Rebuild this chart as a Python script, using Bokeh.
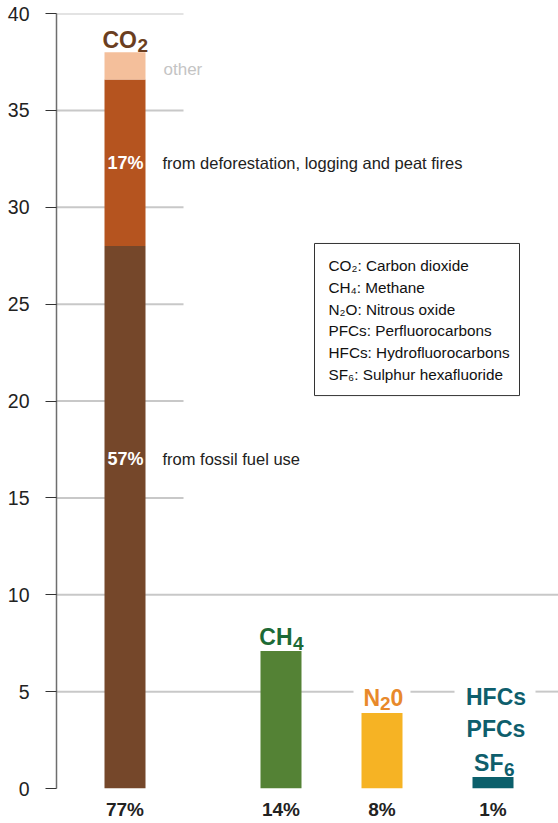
from bokeh.plotting import figure
from bokeh.models import Range1d, FixedTicker
from bokeh.core.properties import value
from bokeh.embed import file_html
from bokeh.resources import INLINE

# ---------------- data ----------------
gases = ["CO2", "CH4", "N2O", "HFCs/PFCs/SF6"]
gas_totals = [38.0, 7.1, 3.9, 0.6]
gas_shares = ["77%", "14%", "8%", "1%"]

co2_sources = ["fossil fuel use", "deforestation, logging and peat fires", "other"]
co2_values = [28.0, 8.6, 1.4]
co2_shares = ["57%", "17%", ""]

y_ticks = [0, 5, 10, 15, 20, 25, 30, 35, 40]

legend_lines = [
    "CO\u2082: Carbon dioxide",
    "CH\u2084: Methane",
    "N\u2082O: Nitrous oxide",
    "PFCs: Perfluorocarbons",
    "HFCs: Hydrofluorocarbons",
    "SF\u2086: Sulphur hexafluoride",
]

# ---------------- layout / style ----------------
FONT = "Liberation Sans"
bar_x = [68.5, 224.5, 325.5, 436.5]
bar_w = 41
co2_colors = ["#75472a", "#b5541f", "#f4bf9b"]
gas_bar_colors = [None, "#548235", "#f6b324", "#0b5f6b"]
gas_label_colors = ["#6b3e20", "#1d6a36", "#e8892b", "#0e5e6c"]

p = figure(width=558, height=823, output_backend="svg", toolbar_location=None,
           x_range=Range1d(0, 502), y_range=Range1d(0, 40),
           min_border_left=56, min_border_right=0, min_border_top=13, min_border_bottom=35)
p.outline_line_color = None
p.xgrid.visible = False
p.ygrid.visible = False
p.background_fill_color = "white"
p.border_fill_color = "white"

# y axis
ya = p.yaxis[0]
ya.ticker = FixedTicker(ticks=y_ticks)
ya.axis_line_color = "#6e6e6e"
ya.axis_line_width = 1.5
ya.major_tick_out = 11
ya.major_tick_in = 0
ya.major_tick_line_color = "#333333"
ya.major_tick_line_width = 1.2
ya.minor_tick_line_color = None
ya.major_label_standoff = 16
ya.major_label_text_font = FONT
ya.major_label_text_font_size = "19.5px"
ya.major_label_text_color = "#222222"

# x axis with share labels
xa = p.xaxis[0]
xa.ticker = FixedTicker(ticks=bar_x)
xa.major_label_overrides = {bx: s for bx, s in zip(bar_x, gas_shares)}
xa.axis_line_color = None
xa.major_tick_line_color = None
xa.minor_tick_line_color = None
xa.major_tick_out = 0
xa.major_tick_in = 0
xa.major_label_standoff = 10
xa.major_label_text_font = FONT
xa.major_label_text_font_size = "19px"
xa.major_label_text_font_style = "bold"
xa.major_label_text_color = "#222222"

# grid lines (segments; short ones near the CO2 bar, gaps behind labels)
short_y = [t for t in y_ticks if t >= 15]
gx0 = [0] * len(short_y) + [0, 0, 354, 479]
gx1 = [127] * len(short_y) + [502, 297, 398, 502]
gy = short_y + [10, 5, 5, 5]
p.segment(x0=gx0, y0=gy, x1=gx1, y1=gy, line_color="#c8c8c8", line_width=2)

# CO2 stacked bar
bottoms, tops = [], []
acc = 0.0
for v in co2_values:
    bottoms.append(acc)
    acc += v
    tops.append(acc)
p.vbar(x=[bar_x[0]] * 3, width=bar_w, bottom=bottoms, top=tops,
       fill_color=co2_colors, line_color=None)

# other gas bars
p.vbar(x=bar_x[1:], width=bar_w, bottom=0, top=gas_totals[1:],
       fill_color=gas_bar_colors[1:], line_color=None)

# labels inside / beside CO2 bar
label_y = [17.0, bottoms[1] + co2_values[1] / 2, 37.1]
p.text(x=[bar_x[0]] * 2, y=label_y[:2], text=co2_shares[:2],
       text_font=value(FONT), text_font_size=value("18px"), text_font_style="bold",
       text_color="white", text_align="center", text_baseline="middle", x_offset=0.5)
p.text(x=[bar_x[0]] * 2, y=label_y[:2], text=["from " + s for s in co2_sources[:2]],
       text_font=value(FONT), text_font_size=value("16.5px"),
       text_color="#222222", text_align="left", text_baseline="middle", x_offset=37.5)
p.text(x=[bar_x[0]], y=[label_y[2]], text=[co2_sources[2]],
       text_font=value(FONT), text_font_size=value("17px"),
       text_color="#c4c4c4", text_align="left", text_baseline="middle", x_offset=38.5)

# gas name labels above bars (with subscripts)
def lab(x, y, t, size, color, align, xo, yo):
    p.text(x=[x], y=[y], text=[t], text_font=value(FONT), text_font_size=value(size),
           text_font_style="bold", text_color=color, text_align=align,
           text_baseline="alphabetic", x_offset=xo, y_offset=yo)

BIG, SUB = "23px", "19px"
# CO2
lab(bar_x[0], gas_totals[0], "CO", BIG, gas_label_colors[0], "right", 12, -12)
lab(bar_x[0], gas_totals[0], "2", SUB, gas_label_colors[0], "left", 12.5, -7)
# CH4
lab(bar_x[1], gas_totals[1], "CH", BIG, gas_label_colors[1], "right", 11.5, -14.4)
lab(bar_x[1], gas_totals[1], "4", SUB, gas_label_colors[1], "left", 12, -7.4)
# N20
lab(bar_x[2], gas_totals[2], "N", BIG, gas_label_colors[2], "right", -2, -15.4)
lab(bar_x[2], gas_totals[2], "2", SUB, gas_label_colors[2], "left", -2, -9.4)
lab(bar_x[2], gas_totals[2], "0", BIG, gas_label_colors[2], "left", 8.6, -15.4)
# F-gases
lab(bar_x[3], gas_totals[3], "HFCs", BIG, gas_label_colors[3], "center", 3, -79.4)
lab(bar_x[3], gas_totals[3], "PFCs", BIG, gas_label_colors[3], "center", 3, -47.4)
lab(bar_x[3], gas_totals[3], "SF", BIG, gas_label_colors[3], "right", 10.5, -13.4)
lab(bar_x[3], gas_totals[3], "6", SUB, gas_label_colors[3], "left", 11, -7.4)

# legend box
p.quad(left=[258], right=[463], top=[28.13], bottom=[20.28],
       fill_color="white", line_color="#333333", line_width=1)
leg_y = [26.99 - i * 1.125 for i in range(len(legend_lines))]
p.text(x=[272] * len(legend_lines), y=leg_y, text=legend_lines,
       text_font=value(FONT), text_font_size=value("15.3px"),
       text_color="#111111", text_align="left", text_baseline="middle")

open("out.html", "w").write(file_html(p, INLINE))
